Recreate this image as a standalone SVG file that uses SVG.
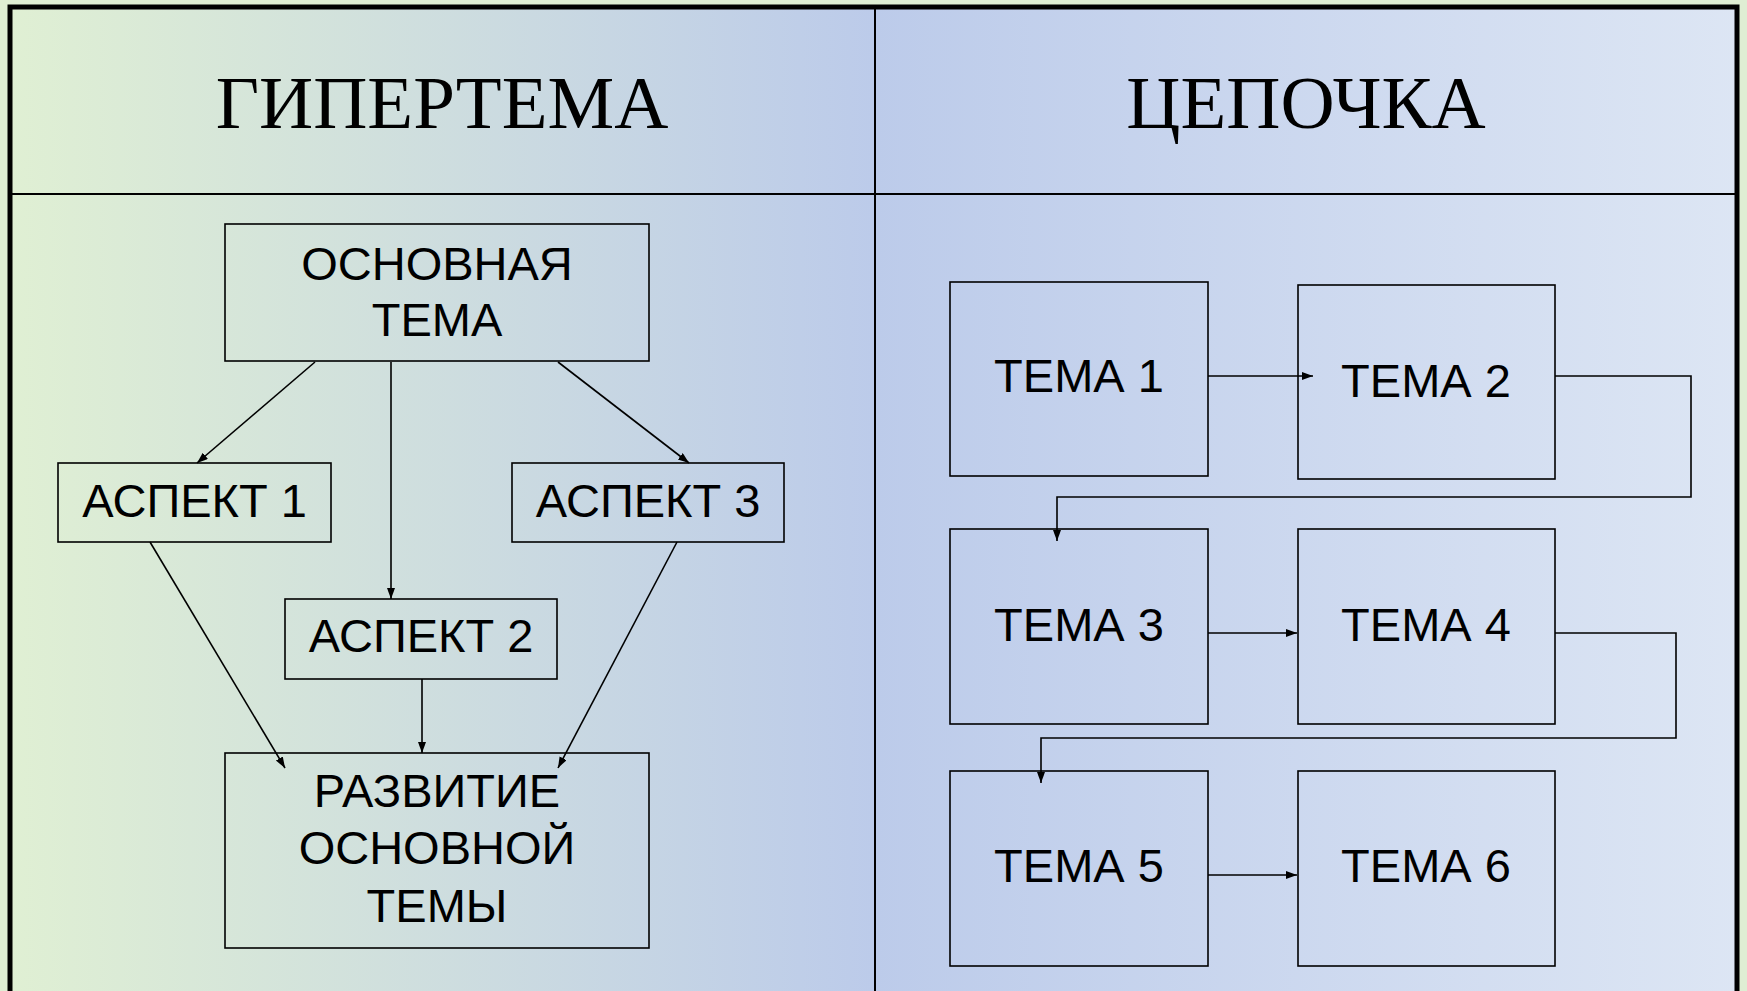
<svg xmlns="http://www.w3.org/2000/svg" width="1747" height="991" viewBox="0 0 1747 991">
<defs>
<linearGradient id="bg" x1="0" y1="0" x2="1747" y2="0" gradientUnits="userSpaceOnUse">
<stop offset="0" stop-color="#e0f0d3"/>
<stop offset="0.5" stop-color="#bccbea"/>
<stop offset="1" stop-color="#dde6f4"/>
</linearGradient>
<marker id="arr" markerUnits="userSpaceOnUse" markerWidth="12" markerHeight="10" refX="11" refY="4" orient="auto">
<path d="M0,0 L11,4 L0,8 z" fill="#000"/>
</marker>
<style>
.box{fill:none;stroke:#000;stroke-width:1.6}
.t{font-family:"Liberation Sans",Arial,sans-serif;font-size:47px;fill:#000;text-anchor:middle}
.h{font-family:"Liberation Serif","Times New Roman",serif;font-size:75px;fill:#000;text-anchor:middle}
.c{fill:none;stroke:#000;stroke-width:1.6}
.ca{fill:none;stroke:#000;stroke-width:1.6;marker-end:url(#arr)}
</style>
</defs>
<rect x="0" y="0" width="1747" height="991" fill="#dfeed3"/>
<rect x="10" y="7" width="1727" height="1000" fill="url(#bg)"/>
<g id="table">
<line x1="10" y1="194" x2="1737" y2="194" stroke="#000" stroke-width="2.2"/>
<line x1="875" y1="7" x2="875" y2="995" stroke="#000" stroke-width="2"/>
<rect x="10" y="7" width="1727" height="1000" fill="none" stroke="#000" stroke-width="5"/>
</g>
<g id="header-left"><text class="h" x="442" y="128">ГИПЕРТЕМА</text></g>
<g id="header-right"><text class="h" x="1306" y="128">ЦЕПОЧКА</text></g>

<g id="connectors">
<line class="ca" x1="315" y1="362" x2="197" y2="463"/>
<line class="ca" x1="391" y1="362" x2="391" y2="599"/>
<line class="ca" x1="558" y1="362" x2="689" y2="463"/>
<line class="ca" x1="150" y1="542" x2="285" y2="768"/>
<line class="ca" x1="677" y1="542" x2="558" y2="768"/>
<line class="ca" x1="422" y1="679" x2="422" y2="753"/>
<line class="ca" x1="1208" y1="376" x2="1313" y2="376"/>
<polyline class="ca" points="1555,376 1691,376 1691,497 1057,497 1057,541"/>
<line class="ca" x1="1208" y1="633" x2="1297" y2="633"/>
<polyline class="ca" points="1555,633 1676,633 1676,738 1041,738 1041,783"/>
<line class="ca" x1="1208" y1="875" x2="1297" y2="875"/>
</g>

<g id="osnovnaya"><rect class="box" x="225" y="224" width="424" height="137"/><text class="t" x="437" y="280">ОСНОВНАЯ</text><text class="t" x="437" y="336">ТЕМА</text></g>
<g id="aspekt1"><rect class="box" x="58" y="463" width="273" height="79"/><text class="t" x="194.5" y="517">АСПЕКТ 1</text></g>
<g id="aspekt3"><rect class="box" x="512" y="463" width="272" height="79"/><text class="t" x="648" y="517">АСПЕКТ 3</text></g>
<g id="aspekt2"><rect class="box" x="285" y="599" width="272" height="80"/><text class="t" x="421" y="652">АСПЕКТ 2</text></g>
<g id="razvitie"><rect class="box" x="225" y="753" width="424" height="195"/><text class="t" x="437" y="807">РАЗВИТИЕ</text><text class="t" x="437" y="864">ОСНОВНОЙ</text><text class="t" x="437" y="922">ТЕМЫ</text></g>

<g id="tema1"><rect class="box" x="950" y="282" width="258" height="194"/><text class="t" x="1079" y="392">ТЕМА 1</text></g>
<g id="tema2"><rect class="box" x="1298" y="285" width="257" height="194"/><text class="t" x="1426" y="397">ТЕМА 2</text></g>
<g id="tema3"><rect class="box" x="950" y="529" width="258" height="195"/><text class="t" x="1079" y="641">ТЕМА 3</text></g>
<g id="tema4"><rect class="box" x="1298" y="529" width="257" height="195"/><text class="t" x="1426" y="641">ТЕМА 4</text></g>
<g id="tema5"><rect class="box" x="950" y="771" width="258" height="195"/><text class="t" x="1079" y="882">ТЕМА 5</text></g>
<g id="tema6"><rect class="box" x="1298" y="771" width="257" height="195"/><text class="t" x="1426" y="882">ТЕМА 6</text></g>
</svg>
